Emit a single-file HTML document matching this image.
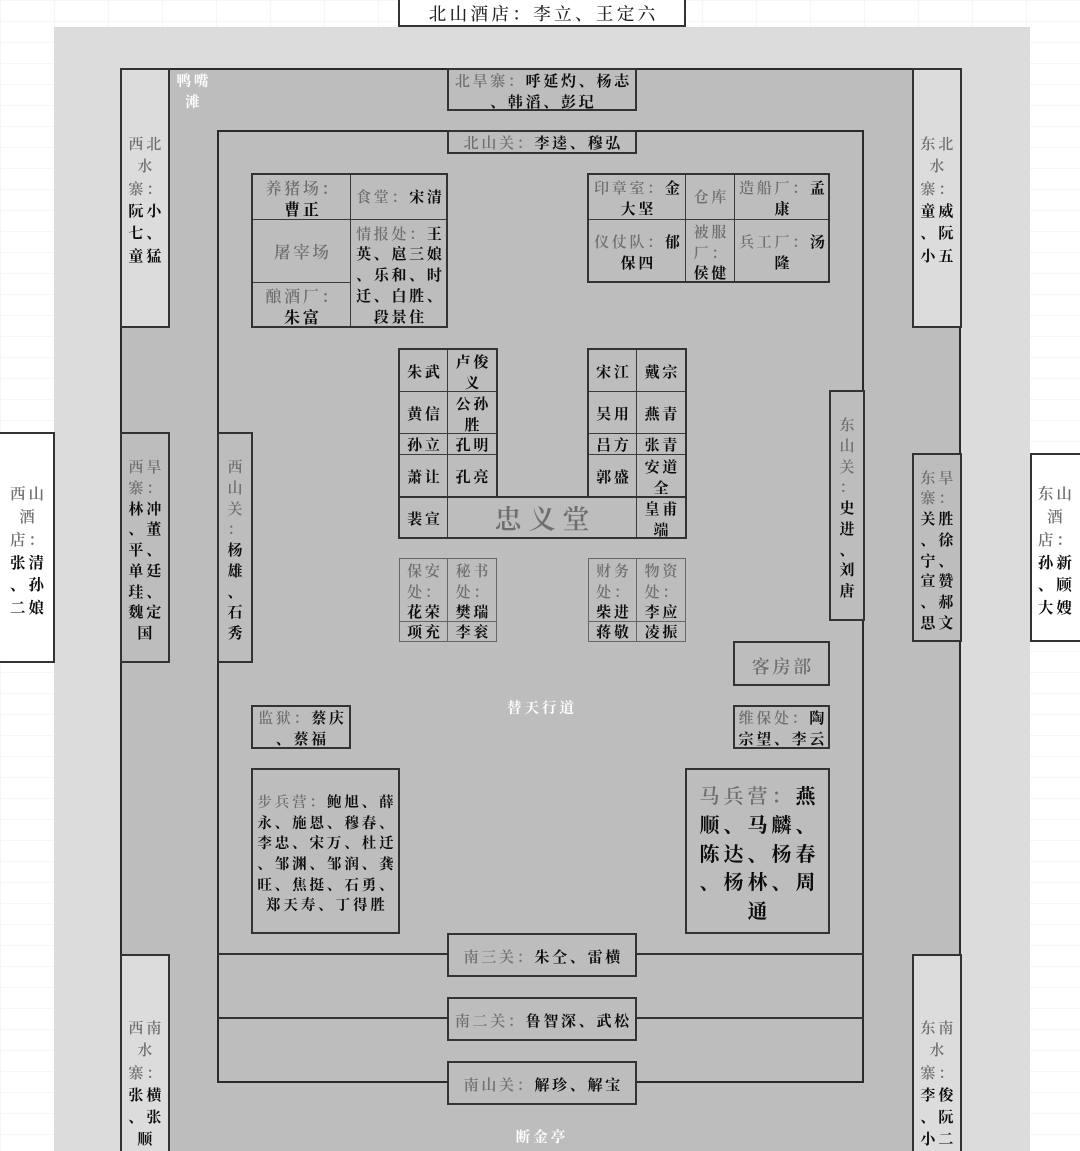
<!DOCTYPE html>
<html lang="zh"><head><meta charset="utf-8"><title>梁山布局图</title>
<style>
html,body{margin:0;padding:0;width:1080px;height:1151px;overflow:hidden}
body{background:#fff;font-family:"Noto Serif CJK SC","Liberation Serif",serif}
#p{position:relative;width:1080px;height:1151px;overflow:hidden;
background-image:linear-gradient(#f6f6f6 1px,transparent 1px),linear-gradient(90deg,#f6f6f6 1px,transparent 1px);background-size:54px 21px}
.a,.b,.f{position:absolute;box-sizing:border-box}
.b{display:flex;align-items:center;justify-content:center;text-align:center;border:1px solid #3a3a3a;
font-size:15px;letter-spacing:2.7px;line-height:20.7px;color:#0c0c0c;font-weight:700;white-space:nowrap;background:#bdbdbd}
.b>div{padding-left:2.7px;position:relative;top:2px}
.s{border:2px solid #333}
.f{border:2px solid #333;pointer-events:none}
i{font-style:normal;color:#6e6e6e;font-weight:600}
.l{background:#dcdcdc}.w{background:#fff}
.t{position:absolute;color:#fff;font-size:14.5px;letter-spacing:3px;line-height:21px;text-align:center;white-space:nowrap;font-weight:700}
.r{position:absolute;background:#333}
.g{border-color:#666}
</style></head><body><div id="p">
<div class="a" style="left:54px;top:27px;width:976px;height:1124px;background:#dcdcdc"></div>
<div class="a" style="left:120px;top:68px;width:841px;height:1090px;background:#bdbdbd;border:2px solid #2a2a2a"></div>
<div class="a" style="left:217px;top:130px;width:647px;height:953px;background:#bdbdbd;border:2px solid #2a2a2a"></div>
<div class="r" style="left:217px;top:953px;width:647px;height:2px"></div>
<div class="r" style="left:217px;top:1017px;width:647px;height:2px"></div>

<div class="b w s" style="left:398px;top:-2px;width:288px;height:29px;font-size:17.5px;letter-spacing:3.4px"><div style="color:#222;font-weight:500;top:2px;padding-left:3.4px">北山酒店&#xFF1A;李立、王定六</div></div>

<div class="b l s" style="left:120px;top:68px;width:50px;height:260px;line-height:22.3px;letter-spacing:3px"><div><i>西北<br>水<br>寨&#xFF1A;</i><br>阮小<br>七、<br>童猛</div></div>
<div class="b l s" style="left:912px;top:68px;width:50px;height:260px;line-height:22.3px;letter-spacing:3px"><div><i>东北<br>水<br>寨&#xFF1A;</i><br>童威<br>、阮<br>小五</div></div>
<div class="b l s" style="left:120px;top:954px;width:50px;height:210px;align-items:flex-start;padding-top:59px;line-height:22.3px;letter-spacing:3px"><div><i>西南<br>水<br>寨&#xFF1A;</i><br>张横<br>、张<br>顺</div></div>
<div class="b l s" style="left:912px;top:954px;width:50px;height:210px;align-items:flex-start;padding-top:59px;line-height:22.3px;letter-spacing:3px"><div><i>东南<br>水<br>寨&#xFF1A;</i><br>李俊<br>、阮<br>小二</div></div>

<div class="b w s" style="left:-2px;top:432px;width:57px;height:231px;line-height:22.7px;font-size:15.5px;letter-spacing:3px"><div style="padding-left:4px;top:3px"><i>西山<br>酒<br>店&#xFF1A;</i><br>张清<br>、孙<br>二娘</div></div>
<div class="b w s" style="left:1030px;top:453px;width:52px;height:189px;line-height:22.7px;font-size:15.5px;letter-spacing:3px"><div style="left:-1px;top:3px"><i>东山<br>酒<br>店&#xFF1A;</i><br>孙新<br>、顾<br>大嫂</div></div>

<div class="b s" style="left:120px;top:432px;width:50px;height:231px;letter-spacing:3px"><div style="top:3px"><i>西旱<br>寨&#xFF1A;</i><br>林冲<br>、董<br>平、<br>单廷<br>珪、<br>魏定<br>国</div></div>
<div class="b s" style="left:912px;top:453px;width:50px;height:189px;letter-spacing:3px"><div style="top:3px"><i>东旱<br>寨&#xFF1A;</i><br>关胜<br>、徐<br>宁、<br>宣赞<br>、郝<br>思文</div></div>
<div class="b s" style="left:217px;top:432px;width:36px;height:231px"><div style="top:3px"><i>西<br>山<br>关<br>&#xFF1A;</i><br>杨<br>雄<br>、<br>石<br>秀</div></div>
<div class="b s" style="left:829px;top:390px;width:36px;height:231px"><div style="top:3px"><i>东<br>山<br>关<br>&#xFF1A;</i><br>史<br>进<br>、<br>刘<br>唐</div></div>

<div class="t" style="left:170px;top:70px;width:48px">鸭嘴<br>滩</div>
<div class="t" style="left:492px;top:697px;width:100px">替天行道</div>
<div class="t" style="left:492px;top:1126px;width:100px">断金亭</div>

<div class="b s" style="left:447px;top:68px;width:190px;height:43px"><div><i>北旱寨&#xFF1A;</i>呼延灼、杨志<br>、韩滔、彭玘</div></div>
<div class="b s" style="left:447px;top:130px;width:190px;height:24px"><div style="top:1px"><i>北山关&#xFF1A;</i>李逵、穆弘</div></div>
<div class="b s" style="left:447px;top:933px;width:190px;height:44px"><div><i>南三关&#xFF1A;</i>朱仝、雷横</div></div>
<div class="b s" style="left:447px;top:997px;width:190px;height:44px"><div><i>南二关&#xFF1A;</i>鲁智深、武松</div></div>
<div class="b s" style="left:447px;top:1061px;width:190px;height:44px"><div><i>南山关&#xFF1A;</i>解珍、解宝</div></div>

<!-- NW grid -->
<div class="b" style="left:252px;top:173px;width:99px;height:47px;font-size:16px"><div><i>养猪场&#xFF1A;</i><br>曹正</div></div>
<div class="b" style="left:252px;top:219px;width:99px;height:64px;font-size:16.5px"><div style="top:0"><i>屠宰场</i></div></div>
<div class="b" style="left:252px;top:282px;width:99px;height:46px;font-size:16px"><div><i>酿酒厂&#xFF1A;</i><br>朱富</div></div>
<div class="b" style="left:350px;top:173px;width:98px;height:47px"><div style="top:1px"><i>食堂&#xFF1A;</i>宋清</div></div>
<div class="b" style="left:350px;top:219px;width:98px;height:109px"><div><i>情报处&#xFF1A;</i>王<br>英、扈三娘<br>、乐和、时<br>迁、白胜、<br>段景住</div></div>
<div class="f" style="left:251px;top:173px;width:197px;height:155px"></div>

<!-- NE grid -->
<div class="b" style="left:588px;top:173px;width:98px;height:47px"><div><i>印章室&#xFF1A;</i>金<br>大坚</div></div>
<div class="b" style="left:685px;top:173px;width:50px;height:47px"><div style="top:1px"><i>仓库</i></div></div>
<div class="b" style="left:734px;top:173px;width:96px;height:47px"><div><i>造船厂&#xFF1A;</i>孟<br>康</div></div>
<div class="b" style="left:588px;top:219px;width:98px;height:64px"><div><i>仪仗队&#xFF1A;</i>郁<br>保四</div></div>
<div class="b" style="left:685px;top:219px;width:50px;height:64px"><div><i>被服<br>厂&#xFF1A;</i><br>侯健</div></div>
<div class="b" style="left:734px;top:219px;width:96px;height:64px"><div><i>兵工厂&#xFF1A;</i>汤<br>隆</div></div>
<div class="f" style="left:587px;top:173px;width:243px;height:110px"></div>

<!-- Hall left -->
<div class="b" style="left:399px;top:349px;width:49px;height:43px"><div>朱武</div></div>
<div class="b" style="left:447px;top:349px;width:50px;height:43px"><div>卢俊<br>义</div></div>
<div class="b" style="left:399px;top:391px;width:49px;height:43px"><div>黄信</div></div>
<div class="b" style="left:447px;top:391px;width:50px;height:43px"><div>公孙<br>胜</div></div>
<div class="b" style="left:399px;top:433px;width:49px;height:22px"><div style="top:1px">孙立</div></div>
<div class="b" style="left:447px;top:433px;width:50px;height:22px"><div style="top:1px">孔明</div></div>
<div class="b" style="left:399px;top:454px;width:49px;height:43px"><div>萧让</div></div>
<div class="b" style="left:447px;top:454px;width:50px;height:43px"><div>孔亮</div></div>
<!-- Hall right -->
<div class="b" style="left:588px;top:349px;width:49px;height:43px"><div>宋江</div></div>
<div class="b" style="left:636px;top:349px;width:50px;height:43px"><div>戴宗</div></div>
<div class="b" style="left:588px;top:391px;width:49px;height:43px"><div>吴用</div></div>
<div class="b" style="left:636px;top:391px;width:50px;height:43px"><div>燕青</div></div>
<div class="b" style="left:588px;top:433px;width:49px;height:22px"><div style="top:1px">吕方</div></div>
<div class="b" style="left:636px;top:433px;width:50px;height:22px"><div style="top:1px">张青</div></div>
<div class="b" style="left:588px;top:454px;width:49px;height:43px"><div>郭盛</div></div>
<div class="b" style="left:636px;top:454px;width:50px;height:43px"><div>安道<br>全</div></div>
<!-- Hall bottom -->
<div class="b" style="left:399px;top:496px;width:49px;height:43px"><div>裴宣</div></div>
<div class="b" style="left:447px;top:496px;width:190px;height:43px;font-size:27px;letter-spacing:7px"><div style="padding-left:7px;top:1px"><i>忠义堂</i></div></div>
<div class="b" style="left:636px;top:496px;width:50px;height:43px"><div>皇甫<br>端</div></div>
<div class="f" style="left:398px;top:348px;width:100px;height:150px"></div>
<div class="f" style="left:587px;top:348px;width:100px;height:150px"></div>
<div class="f" style="left:398px;top:496px;width:289px;height:43px"></div>

<!-- Lower grids -->
<div class="b g" style="left:399px;top:558px;width:49px;height:64px"><div><i>保安<br>处&#xFF1A;</i><br>花荣</div></div>
<div class="b g" style="left:447px;top:558px;width:50px;height:64px"><div><i>秘书<br>处&#xFF1A;</i><br>樊瑞</div></div>
<div class="b g" style="left:399px;top:621px;width:49px;height:21px"><div style="top:1px">项充</div></div>
<div class="b g" style="left:447px;top:621px;width:50px;height:21px"><div style="top:1px">李衮</div></div>
<div class="b g" style="left:588px;top:558px;width:49px;height:64px"><div><i>财务<br>处&#xFF1A;</i><br>柴进</div></div>
<div class="b g" style="left:636px;top:558px;width:50px;height:64px"><div><i>物资<br>处&#xFF1A;</i><br>李应</div></div>
<div class="b g" style="left:588px;top:621px;width:49px;height:21px"><div style="top:1px">蒋敬</div></div>
<div class="b g" style="left:636px;top:621px;width:50px;height:21px"><div style="top:1px">凌振</div></div>

<div class="b s" style="left:733px;top:641px;width:97px;height:45px;font-size:18px"><div style="top:3px"><i>客房部</i></div></div>
<div class="b s" style="left:733px;top:705px;width:97px;height:44px"><div><i>维保处&#xFF1A;</i>陶<br>宗望、李云</div></div>
<div class="b s" style="left:251px;top:705px;width:100px;height:44px"><div><i>监狱&#xFF1A;</i>蔡庆<br>、蔡福</div></div>
<div class="b s" style="left:251px;top:768px;width:149px;height:166px;font-size:14.5px;letter-spacing:2.9px"><div style="padding-left:2.9px;top:3px"><i>步兵营&#xFF1A;</i>鲍旭、薛<br>永、施恩、穆春、<br>李忠、宋万、杜迁<br>、邹渊、邹润、龚<br>旺、焦挺、石勇、<br>郑天寿、丁得胜</div></div>
<div class="b s" style="left:685px;top:768px;width:145px;height:166px;font-size:20px;letter-spacing:4px;line-height:28.7px"><div style="padding-left:4px"><i>马兵营&#xFF1A;</i>燕<br>顺、马麟、<br>陈达、杨春<br>、杨林、周<br>通</div></div>
</div></body></html>
